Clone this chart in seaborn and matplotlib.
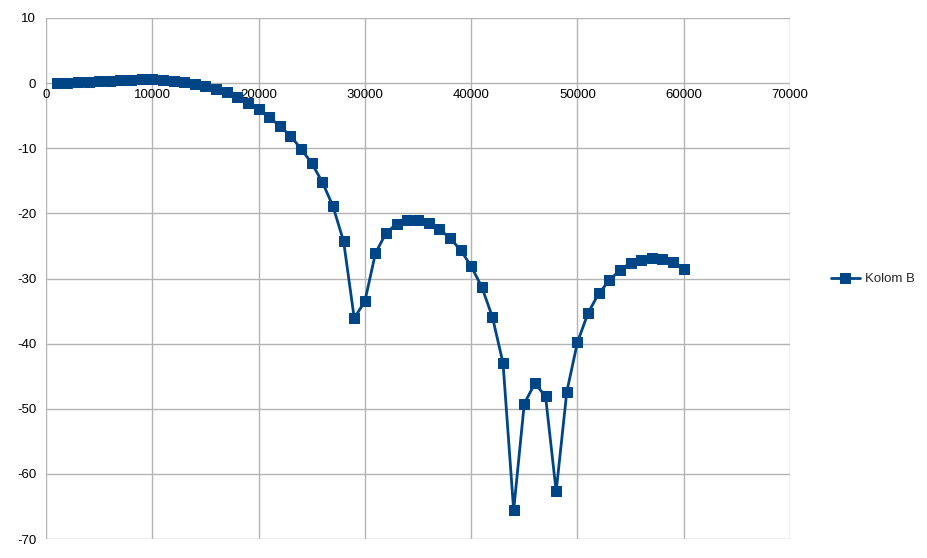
import numpy as np
import pandas as pd
import matplotlib
matplotlib.use("Agg")
import matplotlib.pyplot as plt
import seaborn as sns

x_vals = list(range(1000, 61000, 1000))
kolom_b = [0.0, 0.0, 0.1, 0.2, 0.3, 0.4, 0.5, 0.5, 0.6, 0.6,
           0.5, 0.4, 0.2, -0.1, -0.5, -0.9, -1.4, -2.1, -3.0, -4.0,
           -5.2, -6.6, -8.1, -10.1, -12.3, -15.2, -18.9, -24.3, -36.1, -33.5,
           -26.1, -23.0, -21.6, -21.0, -21.0, -21.5, -22.4, -23.8, -25.6, -28.1,
           -31.3, -35.9, -43.0, -65.6, -49.2, -46.1, -48.1, -62.7, -47.4, -39.8,
           -35.3, -32.3, -30.3, -28.7, -27.6, -27.2, -26.9, -27.0, -27.5, -28.6]

df = pd.DataFrame({"x": x_vals, "Kolom B": kolom_b})

sns.set_style("white")
plt.rcParams['font.family'] = ['Liberation Sans', 'DejaVu Sans']
plt.rcParams['axes.unicode_minus'] = False

fig = plt.figure(figsize=(9.27, 5.58), dpi=100)
ax = fig.add_axes([46/927, 19/558, 744/927, 521/558])

blue = "#004586"
sns.lineplot(data=df, x="x", y="Kolom B", ax=ax, color=blue, linewidth=2,
             marker="s", markersize=7.2, markeredgecolor=blue, label="Kolom B")

ax.set_xlim(0, 70000)
ax.set_ylim(-70, 10)
ax.set_xticks(range(0, 70001, 10000))
ax.set_yticks(range(-70, 11, 10))
ax.grid(True, color="#b3b3b3", linewidth=1)
ax.set_axisbelow(True)
for s in ["top", "right", "left"]:
    ax.spines[s].set_visible(False)
ax.spines["bottom"].set_position(("data", 0))
ax.spines["bottom"].set_color("none")
ax.tick_params(length=0, labelsize=9.5, colors="#000000")
ax.tick_params(axis="x", pad=4)
ax.tick_params(axis="y", pad=7)
ax.set_xlabel("")
ax.set_ylabel("")

ax.legend_.remove()
h, l = ax.get_legend_handles_labels()
fig.legend(h, l, loc="center left", bbox_to_anchor=(819/927, 279/558),
           frameon=False, fontsize=9.5, handlelength=2.2, handletextpad=0.4)

fig.savefig("out.png", dpi=100)
